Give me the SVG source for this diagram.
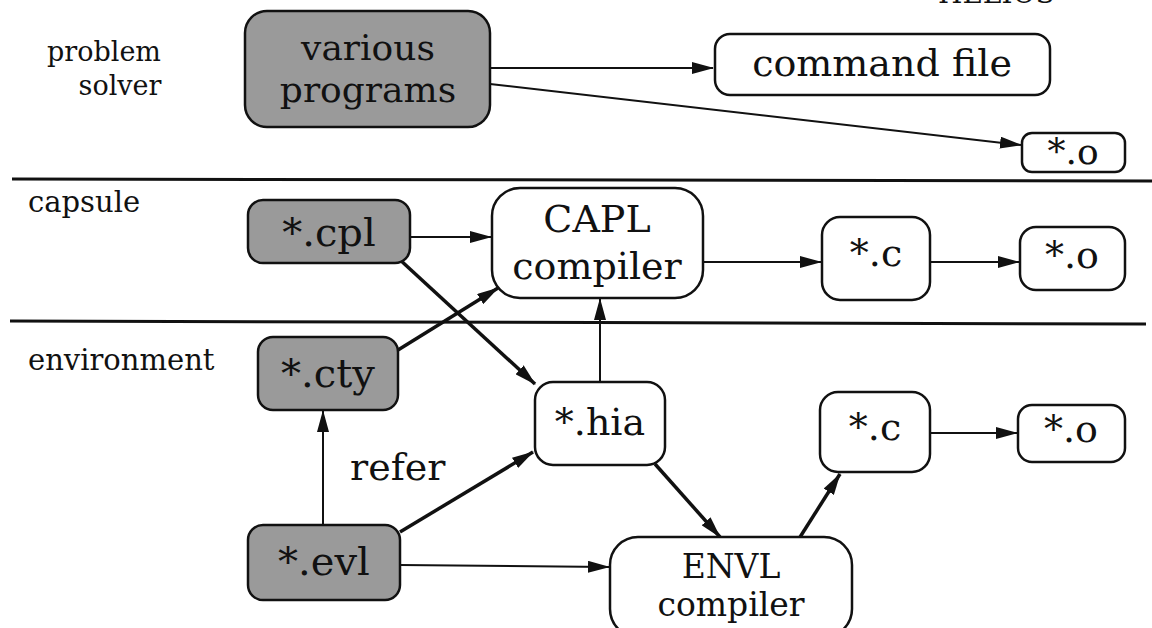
<svg xmlns="http://www.w3.org/2000/svg" width="1152" height="628" viewBox="0 0 1152 628">
<style>
.bg{fill:#fff}
.box{fill:#fff;stroke:#111;stroke-width:2.5}
.gbox{fill:#9a9a9a;stroke:#111;stroke-width:2.5}
.t{font-family:"DejaVu Serif","Liberation Serif",serif;fill:#111;text-anchor:middle}
.lbl{font-family:"DejaVu Serif","Liberation Serif",serif;fill:#111;font-size:29px}
.thin{stroke:#111;stroke-width:2;fill:none}
.thick{stroke:#111;stroke-width:3.5;fill:none}
.sep{stroke:#111;stroke-width:3}
</style>
<defs>
<marker id="ah" viewBox="0 0 22 12" refX="21" refY="6" markerWidth="22" markerHeight="12" markerUnits="userSpaceOnUse" orient="auto">
<path d="M0,0 L22,6 L0,12 z" fill="#111"/>
</marker>
</defs>
<rect class="bg" x="0" y="0" width="1152" height="628"/>
<text class="lbl" x="938" y="3" style="font-size:28px">HELIOS</text>

<g id="labels">
<text class="lbl" x="104" y="61" text-anchor="middle" style="font-size:27px">problem</text>
<text class="lbl" x="120" y="95" text-anchor="middle" style="font-size:27px">solver</text>
<text class="lbl" x="28" y="212">capsule</text>
<text class="lbl" x="28" y="370">environment</text>
<text class="lbl" x="350" y="480" style="font-size:38px">refer</text>
</g>

<g id="separators">
<line class="sep" x1="12" y1="179" x2="1152" y2="181"/>
<line class="sep" x1="10" y1="321" x2="1146" y2="324"/>
</g>

<g id="connectors">
<line class="thin" x1="490" y1="68" x2="713" y2="68" marker-end="url(#ah)"/>
<line class="thin" x1="490" y1="84" x2="1021" y2="145" marker-end="url(#ah)"/>
<line class="thin" x1="410" y1="237" x2="491" y2="237" marker-end="url(#ah)"/>
<line class="thin" x1="703" y1="262" x2="821" y2="262" marker-end="url(#ah)"/>
<line class="thin" x1="930" y1="262" x2="1019" y2="262" marker-end="url(#ah)"/>
<line class="thick" x1="398" y1="350" x2="498" y2="288" marker-end="url(#ah)"/>
<line class="thick" x1="398" y1="258" x2="535" y2="384" marker-end="url(#ah)"/>
<line class="thin" x1="600" y1="382" x2="600" y2="299" marker-end="url(#ah)"/>
<line class="thin" x1="930" y1="433" x2="1017" y2="433" marker-end="url(#ah)"/>
<line class="thick" x1="795" y1="545" x2="840" y2="474" marker-end="url(#ah)"/>
<line class="thick" x1="655" y1="464" x2="720" y2="537" marker-end="url(#ah)"/>
<line class="thin" x1="323" y1="525" x2="323" y2="411" marker-end="url(#ah)"/>
<line class="thick" x1="400" y1="532" x2="533" y2="452" marker-end="url(#ah)"/>
<line class="thin" x1="400" y1="565" x2="609" y2="567" marker-end="url(#ah)"/>
</g>

<g id="various-programs">
<rect class="gbox" x="245" y="11" width="245" height="116" rx="22"/>
<text class="t" x="368" y="60" style="font-size:36px">various</text>
<text class="t" x="368" y="102" style="font-size:36px">programs</text>
</g>
<g id="command-file">
<rect class="box" x="715" y="34" width="335" height="61" rx="15"/>
<text class="t" x="882" y="76" style="font-size:38px">command file</text>
</g>
<g id="o-top">
<rect class="box" x="1022" y="133" width="103" height="39" rx="10"/>
<text class="t" x="1073" y="164" style="font-size:36px">*.o</text>
</g>

<g id="cpl">
<rect class="gbox" x="248" y="200" width="162" height="63" rx="15"/>
<text class="t" x="329" y="246" style="font-size:40px">*.cpl</text>
</g>
<g id="capl-compiler">
<rect class="box" x="492" y="188" width="211" height="110" rx="28"/>
<text class="t" x="597" y="232" style="font-size:38px">CAPL</text>
<text class="t" x="597" y="279" style="font-size:38px">compiler</text>
</g>
<g id="c-capsule">
<rect class="box" x="822" y="217" width="108" height="83" rx="18"/>
<text class="t" x="876" y="266" style="font-size:38px">*.c</text>
</g>
<g id="o-capsule">
<rect class="box" x="1020" y="227" width="105" height="63" rx="16"/>
<text class="t" x="1072" y="268" style="font-size:38px">*.o</text>
</g>

<g id="cty">
<rect class="gbox" x="258" y="337" width="140" height="73" rx="15"/>
<text class="t" x="328" y="387" style="font-size:40px">*.cty</text>
</g>
<g id="hia">
<rect class="box" x="535" y="382" width="130" height="83" rx="18"/>
<text class="t" x="600" y="435" style="font-size:38px">*.hia</text>
</g>
<g id="c-env">
<rect class="box" x="820" y="392" width="110" height="80" rx="18"/>
<text class="t" x="875" y="440" style="font-size:38px">*.c</text>
</g>
<g id="o-env">
<rect class="box" x="1018" y="405" width="107" height="57" rx="14"/>
<text class="t" x="1071" y="442" style="font-size:38px">*.o</text>
</g>
<g id="evl">
<rect class="gbox" x="248" y="525" width="152" height="75" rx="15"/>
<text class="t" x="324" y="575" style="font-size:40px">*.evl</text>
</g>
<g id="envl-compiler">
<rect class="box" x="610" y="537" width="242" height="100" rx="28"/>
<text class="t" x="731" y="578" style="font-size:33px">ENVL</text>
<text class="t" x="731" y="616" style="font-size:33px">compiler</text>
</g>
</svg>
